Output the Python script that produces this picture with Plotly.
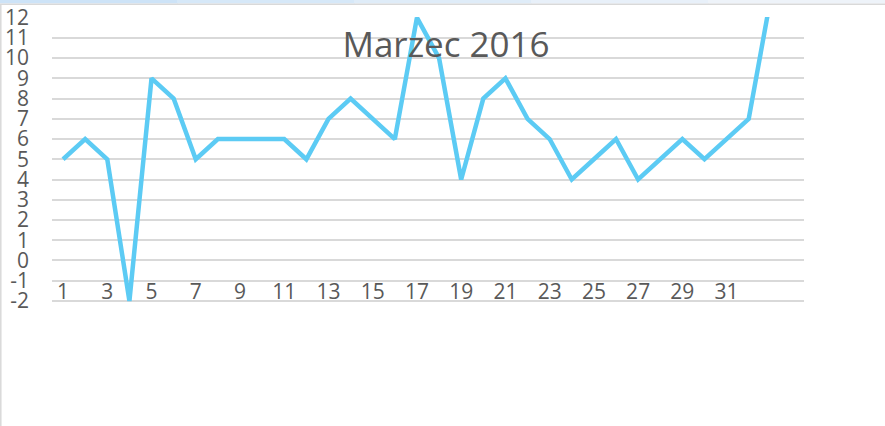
import plotly.graph_objects as go

days = list(range(1, 34))
values = [5, 6, 5, -2, 9, 8, 5, 6, 6, 6, 6, 5, 7, 8, 7, 6, 12, 10, 4, 8, 9, 7, 6, 4, 5, 6, 4, 5, 6, 5, 6, 7, 13]
x_tick_vals = list(range(1, 32, 2))
x_tick_text = [str(v) for v in x_tick_vals]
y_tick_vals = list(range(-2, 13))
y_tick_text = [str(v) for v in y_tick_vals]
title_text = "Marzec 2016"

W, H = 885, 426
L, R, T, B = 52, 81, 17, 121
pw, ph = W - L - R, H - T - B

def px_x(p):
    return (p - L) / pw

def px_y(p):
    return 1 - (p - T) / ph

fig = go.Figure()
fig.add_trace(go.Scatter(
    x=days, y=values, mode="lines",
    line=dict(color="#5ccbf4", width=4.5),
    hoverinfo="skip", showlegend=False,
))

text_col = "#595959"
font_fam = "Open Sans, DejaVu Sans, sans-serif"

shapes = []
band_cols = ["#cde3f7", "#d6e8f8", "#dfecf8", "#e8f0f9", "#eef3f9"]
n = len(band_cols)
for i, c in enumerate(band_cols):
    shapes.append(dict(type="rect", xref="paper", yref="paper",
                       x0=px_x(i * W / n), x1=px_x((i + 1) * W / n + 1),
                       y0=px_y(3.5), y1=px_y(0), fillcolor=c, line=dict(width=0), layer="above"))
shapes.append(dict(type="line", xref="paper", yref="paper",
                   x0=px_x(0), x1=px_x(W), y0=px_y(4.2), y1=px_y(4.2),
                   line=dict(color="#d9d9d9", width=1.5), layer="above"))
shapes.append(dict(type="line", xref="paper", yref="paper",
                   x0=px_x(0.8), x1=px_x(0.8), y0=px_y(4), y1=px_y(H),
                   line=dict(color="#d9d9d9", width=1.5), layer="above"))

fig.update_layout(
    width=W, height=H,
    margin=dict(l=L, r=R, t=T, b=B, pad=0, autoexpand=False),
    paper_bgcolor="white", plot_bgcolor="white",
    title=dict(text=title_text, xref="container", x=0.504, xanchor="center",
               yref="container", y=1 - 45 / H, yanchor="middle", automargin=False,
               font=dict(family=font_fam, size=35, color=text_col)),
    xaxis=dict(range=[0.5, 34.5], tickvals=x_tick_vals, ticktext=x_tick_text,
               showgrid=False, zeroline=False, showline=False, ticks="",
               automargin=False, ticklabelstandoff=-28,
               tickfont=dict(family=font_fam, size=21, color=text_col)),
    yaxis=dict(range=[-2.2, 12.03], tickvals=y_tick_vals, ticktext=y_tick_text,
               showgrid=True, gridcolor="#d9d9d9", gridwidth=2,
               zeroline=False, showline=False, ticks="",
               automargin=False, ticklabelstandoff=22,
               tickfont=dict(family=font_fam, size=21, color=text_col)),
    shapes=shapes,
)

fig.write_html(
    "out.html",
    config={"displayModeBar": False},
    post_script="document.body.style.margin='0';document.body.style.padding='0';",
)
